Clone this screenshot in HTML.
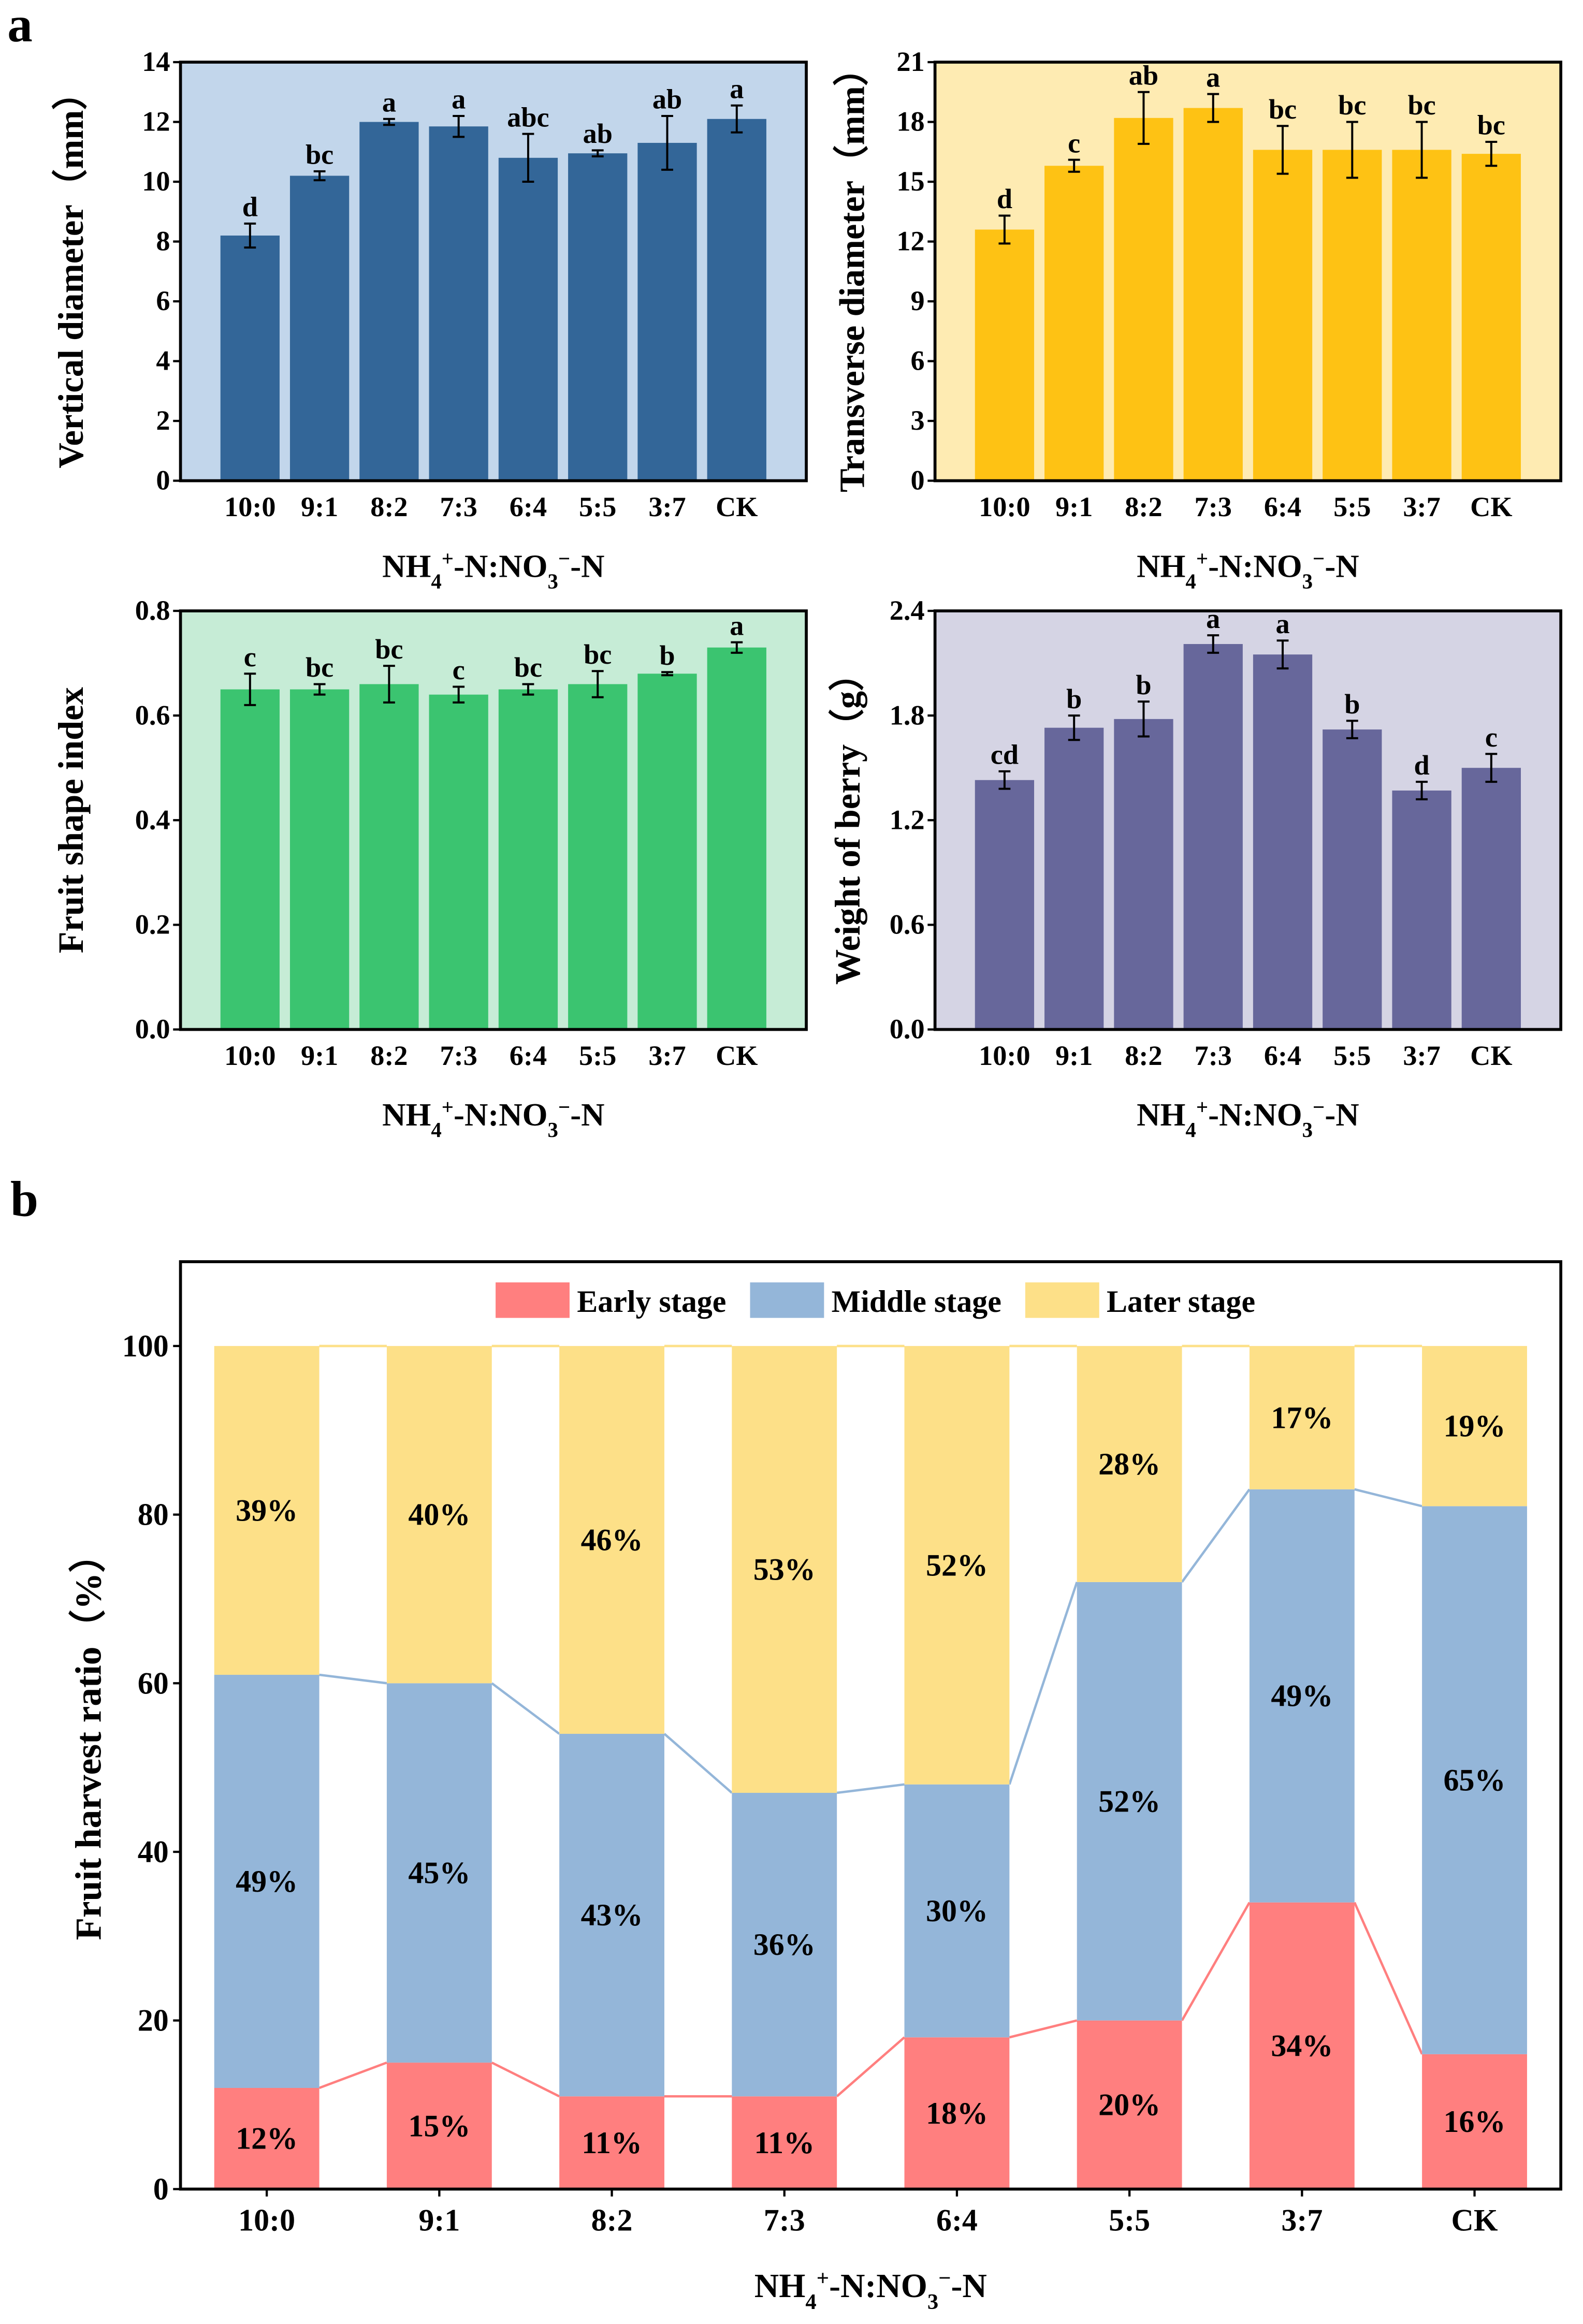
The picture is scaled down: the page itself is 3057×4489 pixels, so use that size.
<!DOCTYPE html>
<html><head><meta charset="utf-8"><style>
html,body{margin:0;padding:0;background:#fff}
svg{display:block}
text{font-family:"Liberation Serif",serif;font-weight:bold;fill:#000}
</style></head><body>
<svg id="fig" xmlns="http://www.w3.org/2000/svg" width="3057" height="4489" viewBox="0 0 1070 1571.2">
<rect width="1070" height="1571.2" fill="#fff"/>
<text x="5" y="28" font-size="34">a</text>
<text x="7" y="822" font-size="34">b</text>
<g id="charts"></g>
</svg>
<script>
const cats = ["10:0","9:1","8:2","7:3","6:4","5:5","3:7","CK"];
const vdVals = [8.2,10.2,12.0,11.85,10.8,10.95,11.3,12.1];
const vdErr = [0.4,0.15,0.1,0.35,0.8,0.1,0.9,0.45];
const vdLetters = ["d","bc","a","a","abc","ab","ab","a"];
const vdTicks = [0,2,4,6,8,10,12,14];
const tdVals = [12.6,15.8,18.2,18.7,16.6,16.6,16.6,16.4];
const tdErr = [0.7,0.3,1.3,0.7,1.2,1.4,1.4,0.6];
const tdLetters = ["d","c","ab","a","bc","bc","bc","bc"];
const tdTicks = [0,3,6,9,12,15,18,21];
const fsiVals = [0.65,0.65,0.66,0.64,0.65,0.66,0.68,0.73];
const fsiErr = [0.03,0.01,0.035,0.015,0.01,0.025,0.003,0.01];
const fsiLetters = ["c","bc","bc","c","bc","bc","b","a"];
const fsiTicks = ["0.0","0.2","0.4","0.6","0.8"];
const wVals = [1.43,1.73,1.78,2.21,2.15,1.72,1.37,1.50];
const wErr = [0.05,0.07,0.1,0.05,0.08,0.05,0.05,0.08];
const wLetters = ["cd","b","b","a","a","b","d","c"];
const wTicks = ["0.0","0.6","1.2","1.8","2.4"];
const early = [12,15,11,11,18,20,34,16];
const middle = [49,45,43,36,30,52,49,65];
const later = [39,40,46,53,52,28,17,19];
const bTicks = [0,20,40,60,80,100];

const NS="http://www.w3.org/2000/svg";
const root=document.getElementById('charts');
function mk(tag,attrs,parent,txt){const e=document.createElementNS(NS,tag);for(const k in attrs)e.setAttribute(k,attrs[k]);if(txt!==undefined)e.textContent=txt;(parent||root).appendChild(e);return e;}
function xTitle(g,cx,y,fs){
  const t=mk('text',{x:cx,y:y,'font-size':fs,'text-anchor':'middle'},g);
  
  
  const parts=[["NH",0],["4",1],["+",-1],["-N:NO",0],["3",1],["−",-1],["-N",0]];
  let prev=0;
  parts.forEach(p=>{const s=mk('tspan',{},t,p[0]);const off=p[1]*fs*0.35;s.setAttribute('dy',off-prev);prev=off;if(p[1]!==0)s.setAttribute('font-size',fs*0.65);});
}
function barPanel(name,x0,y0,w,h,vals,errs,letters,ticks,ymax,bg,col,ytitle,ytx){
  const g=mk('g',{});
  
  
  const y=v=>y0+h-(v/ymax)*h;
  const step=47, first=x0+47, bw=40;
  const bgr=mk('rect',{x:x0,y:y0,width:w,height:h,fill:bg},g);
  
  
  vals.forEach((v,i)=>{
    const cx=first+i*step;
    const r=mk('rect',{x:cx-bw/2,y:y(v),width:bw,height:y0+h-y(v),fill:col},g);
    
    
    const e=errs[i];
    const eb=mk('path',{d:`M${cx},${y(v+e)}V${y(v-e)}M${cx-4},${y(v+e)}H${cx+4}M${cx-4},${y(v-e)}H${cx+4}`,stroke:'#000','stroke-width':1.4,fill:'none'},g);
    
    
    const lt=mk('text',{x:cx,y:y(v+e)-5,'font-size':19,'text-anchor':'middle'},g,letters[i]);
    
    
    const xl=mk('text',{x:cx,y:y0+h+24,'font-size':19,'text-anchor':'middle'},g,cats[i]);
    
    
  });
  ticks.forEach(t=>{
    const v=parseFloat(t), yy=y(v);
    mk('line',{x1:x0-5,x2:x0,y1:yy,y2:yy,stroke:'#000','stroke-width':1.5},g);
    const tl=mk('text',{x:x0-7,y:yy+6,'font-size':19,'text-anchor':'end'},g,String(t));
    
    
  });
  const fr=mk('rect',{x:x0,y:y0,width:w,height:h,fill:'none',stroke:'#000','stroke-width':2},g);
  
  
  const yt=mk('text',{x:ytx,y:y0+h/2,'font-size':24,'text-anchor':'middle',transform:`rotate(-90 ${ytx} ${y0+h/2})`},g,ytitle);
  
  
  xTitle(g,x0+w/2,y0+h+65,22);
}
barPanel('vertical-diameter-chart',122,42,423,283,vdVals,vdErr,vdLetters,vdTicks,14,'#c2d6eb','#336698','Vertical diameter（mm）',56);
barPanel('transverse-diameter-chart',632,42,423,283,tdVals,tdErr,tdLetters,tdTicks,21,'#feebb2','#fec214','Transverse diameter（mm）',584);
barPanel('fruit-shape-index-chart',122,413,423,283,fsiVals,fsiErr,fsiLetters,fsiTicks,0.8,'#c6ecd6','#3bc470','Fruit shape index',56);
barPanel('berry-weight-chart',632,413,423,283,wVals,wErr,wLetters,wTicks,2.4,'#d5d4e4','#67679b','Weight of berry（g）',581);

(function(){
  const g=mk('g',{});
  
  
  const x0=122,x1=1055,y0=853,y1=1480,ymax=110;
  const y=v=>y1-(v/ymax)*(y1-y0);
  const step=(x1-x0)/8, bw=71;
  const cx=i=>x0+step*(i+0.5);
  const cumE=early.slice(), cumM=early.map((e,i)=>e+middle[i]);
  for(let i=0;i<7;i++){
    mk('line',{x1:cx(i)+bw/2,x2:cx(i+1)-bw/2,y1:y(cumE[i]),y2:y(cumE[i+1]),stroke:'#ff7f7f','stroke-width':1.6},g);
    mk('line',{x1:cx(i)+bw/2,x2:cx(i+1)-bw/2,y1:y(cumM[i]),y2:y(cumM[i+1]),stroke:'#94b6d9','stroke-width':1.6},g);
    mk('line',{x1:cx(i)+bw/2,x2:cx(i+1)-bw/2,y1:y(cumM[i]+later[i]),y2:y(cumM[i+1]+later[i+1]),stroke:'#fde088','stroke-width':1.6},g);
  }
  const segs=[[early,'#ff7f7f','early'],[middle,'#94b6d9','middle'],[later,'#fde088','later']];
  cats.forEach((c,i)=>{
    let base=0;
    segs.forEach(s=>{
      const v=s[0][i];
      const r=mk('rect',{x:cx(i)-bw/2,y:y(base+v),width:bw,height:y(base)-y(base+v),fill:s[1]},g);
      
      
      const t=mk('text',{x:cx(i),y:y(base+v/2)+7,'font-size':21,'text-anchor':'middle'},g,v+'%');
      
      
      base+=v;
    });
    const xl=mk('text',{x:cx(i),y:y1+28,'font-size':21,'text-anchor':'middle'},g,c);
    
    
    mk('line',{x1:cx(i),x2:cx(i),y1:y1,y2:y1+5,stroke:'#000','stroke-width':1.5},g);
  });
  bTicks.forEach(t=>{
    const yy=y(t);
    mk('line',{x1:x0-5,x2:x0,y1:yy,y2:yy,stroke:'#000','stroke-width':1.5},g);
    const tl=mk('text',{x:x0-8,y:yy+7,'font-size':21,'text-anchor':'end'},g,String(t));
    
    
  });
  const fr=mk('rect',{x:x0,y:y0,width:x1-x0,height:y1-y0,fill:'none',stroke:'#000','stroke-width':2},g);
  
  
  const yt=mk('text',{x:68,y:1175,'font-size':25,'text-anchor':'middle',transform:'rotate(-90 68 1175)'},g,'Fruit harvest ratio（%）');
  
  
  xTitle(g,(x0+x1)/2,1553,23);
  const leg=[['Early stage','#ff7f7f',335],['Middle stage','#94b6d9',507],['Later stage','#fde088',693]];
  leg.forEach(l=>{
    const lg=mk('g',{},g);
    
    
    mk('rect',{x:l[2],y:867,width:50,height:24,fill:l[1]},lg);
    mk('text',{x:l[2]+55,y:887,'font-size':21},lg,l[0]);
  });
})();
</script>
</body></html>
